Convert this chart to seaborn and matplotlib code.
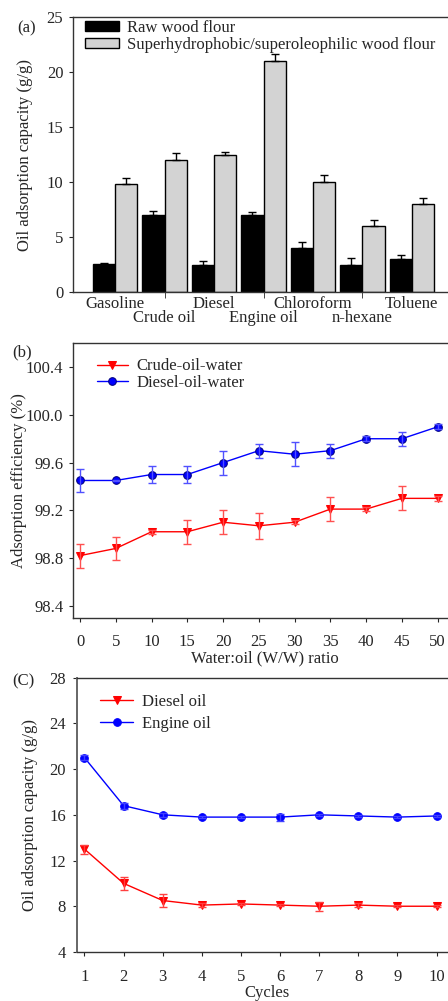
import numpy as np
import pandas as pd
import matplotlib
matplotlib.use('Agg')
import matplotlib.pyplot as plt
import seaborn as sns

# Panel (a) data
oils = ['Gasoline', 'Crude oil', 'Diesel', 'Engine oil', 'Chloroform', 'n-hexane', 'Toluene']
raw_vals = [2.6, 7.0, 2.5, 7.0, 4.0, 2.5, 3.0]
raw_err = [0.1, 0.4, 0.3, 0.3, 0.6, 0.6, 0.4]
sup_vals = [9.8, 12.0, 12.5, 21.0, 10.0, 6.0, 8.0]
sup_err = [0.55, 0.65, 0.25, 0.65, 0.65, 0.6, 0.6]

# Panel (b) data
ratio = [0, 5, 10, 15, 20, 25, 30, 35, 40, 45, 50]
crude_eff = [98.82, 98.88, 99.02, 99.02, 99.10, 99.07, 99.10, 99.21, 99.21, 99.30, 99.30]
crude_eff_err = [0.10, 0.10, 0.015, 0.10, 0.10, 0.11, 0.015, 0.10, 0.015, 0.10, 0.02]
diesel_eff = [99.45, 99.45, 99.50, 99.50, 99.60, 99.70, 99.67, 99.70, 99.80, 99.80, 99.90]
diesel_eff_err = [0.10, 0.005, 0.07, 0.07, 0.10, 0.06, 0.10, 0.06, 0.02, 0.06, 0.02]

# Panel (c) data
cycles = [1, 2, 3, 4, 5, 6, 7, 8, 9, 10]
diesel_cap = [13.0, 10.0, 8.5, 8.1, 8.2, 8.1, 8.0, 8.1, 8.0, 8.0]
diesel_cap_err = [0.4, 0.6, 0.6, 0.2, 0.1, 0.1, 0.4, 0.15, 0.1, 0.1]
engine_cap = [21.0, 16.8, 16.0, 15.8, 15.8, 15.8, 16.0, 15.9, 15.8, 15.9]
engine_cap_err = [0.2, 0.25, 0.2, 0.1, 0.1, 0.3, 0.1, 0.1, 0.1, 0.1]

sns.set_style('ticks')
plt.rcParams['font.family'] = ['Liberation Serif', 'DejaVu Serif']
plt.rcParams['font.size'] = 12
plt.rcParams['axes.edgecolor'] = '#333333'
plt.rcParams['axes.linewidth'] = 1.0

fig = plt.figure(figsize=(4.48, 10.01), dpi=100)

# ---------- (a) bar chart ----------
ax1 = fig.add_axes([0.163, 0.708, 1.02 - 0.163, 0.275])
df = pd.DataFrame({
    'oil': oils * 2,
    'val': raw_vals + sup_vals,
    'kind': ['Raw wood flour'] * 7 + ['Superhydrophobic/superoleophilic wood flour'] * 7,
})
sns.barplot(data=df, x='oil', y='val', hue='kind', order=oils,
            palette=['black', '#d3d3d3'], width=0.9, errorbar=None,
            edgecolor='black', linewidth=1.0, ax=ax1)
bars = ax1.patches[:14]
xs = [b.get_x() + b.get_width() / 2 for b in bars]
errs = raw_err + sup_err
vals = raw_vals + sup_vals
ax1.errorbar(xs, vals, yerr=[np.zeros(14), errs], fmt='none', ecolor='black',
             elinewidth=1.0, capsize=3, capthick=1.0)
ax1.set_xlim(-0.85, 6.91)
ax1.set_ylim(0, 25)
ax1.set_yticks([0, 5, 10, 15, 20, 25])
# staggered category labels: even ones on the first row, odd ones on a second row
ax1.set_xticks([0, 2, 4, 6])
ax1.set_xticklabels([oils[i] for i in [0, 2, 4, 6]])
ax1.set_xticks([1, 3, 5], minor=True)
ax1.set_xticklabels([oils[i] for i in [1, 3, 5]], minor=True)
ax1.tick_params(axis='x', which='major', length=0, pad=3)
ax1.tick_params(axis='x', which='minor', length=4, direction='out', pad=9, labelsize=12)
ax1.tick_params(axis='y', length=3, pad=4)
ax1.set_xlabel('')
ax1.set_ylabel('Oil adsorption capacity (g/g)', labelpad=10)
ax1.spines['right'].set_visible(False)
ax1.legend(loc='upper left', bbox_to_anchor=(0.028, 0.995), frameon=False,
           handlelength=2.0, handleheight=0.55, handletextpad=0.5,
           labelspacing=0.05, borderpad=0, borderaxespad=0.1)
fig.text(0.038, 0.972, '(a)', fontsize=12, va='center')

# ---------- (b) efficiency ----------
ax2 = fig.add_axes([0.163, 0.383, 1.02 - 0.163, 0.274])
sns.lineplot(x=ratio, y=crude_eff, color='red', marker='v', markersize=6,
             markeredgecolor='red', linewidth=1.0, label='Crude-oil-water', ax=ax2)
sns.lineplot(x=ratio, y=diesel_eff, color='blue', marker='o', markersize=5.5,
             markeredgecolor='#000080', linewidth=1.0, label='Diesel-oil-water', ax=ax2)
ax2.errorbar(ratio, crude_eff, yerr=crude_eff_err, fmt='none', ecolor='#ff5050',
             elinewidth=1.0, capsize=3, capthick=1.0)
ax2.errorbar(ratio, diesel_eff, yerr=diesel_eff_err, fmt='none', ecolor='#5050ff',
             elinewidth=1.0, capsize=3, capthick=1.0)
ax2.set_xlim(-0.98, 52.7)
ax2.set_ylim(98.3, 100.6)
ax2.set_xticks(ratio)
ax2.set_yticks([98.4, 98.8, 99.2, 99.6, 100.0, 100.4])
ax2.set_yticklabels(['98.4', '98.8', '99.2', '99.6', '100.0', '100.4'])
ax2.tick_params(axis='y', length=3, pad=4)
ax2.tick_params(axis='x', length=3, pad=9)
ax2.set_xlabel('Water:oil (W/W) ratio', labelpad=0)
ax2.set_ylabel('Adsorption efficiency (%)', labelpad=-1)
ax2.spines['right'].set_visible(False)
ax2.legend(loc='upper left', bbox_to_anchor=(0.062, 0.945), frameon=False,
           handlelength=1.85, handletextpad=0.55, labelspacing=0.05,
           borderpad=0, borderaxespad=0)
fig.text(0.027, 0.648, '(b)', fontsize=12, va='center')

# ---------- (c) cycles ----------
ax3 = fig.add_axes([0.172, 0.049, 1.02 - 0.172, 0.274])
sns.lineplot(x=cycles, y=diesel_cap, color='red', marker='v', markersize=6,
             markeredgecolor='red', linewidth=1.0, label='Diesel oil', ax=ax3)
sns.lineplot(x=cycles, y=engine_cap, color='blue', marker='o', markersize=5.5,
             markeredgecolor='blue', linewidth=1.0, label='Engine oil', ax=ax3)
ax3.errorbar(cycles, diesel_cap, yerr=diesel_cap_err, fmt='none', ecolor='#ff4040',
             elinewidth=1.0, capsize=3, capthick=1.0)
ax3.errorbar(cycles, engine_cap, yerr=engine_cap_err, fmt='none', ecolor='#4040ff',
             elinewidth=1.0, capsize=3, capthick=1.0)
ax3.set_xlim(0.81, 10.52)
ax3.set_ylim(4, 28)
ax3.set_xticks(cycles)
ax3.set_yticks([4, 8, 12, 16, 20, 24, 28])
ax3.tick_params(axis='y', length=3, pad=5)
ax3.tick_params(axis='x', length=3, pad=9)
ax3.set_xlabel('Cycles', labelpad=0)
ax3.set_ylabel('Oil adsorption capacity (g/g)', labelpad=8)
ax3.spines['right'].set_visible(False)
ax3.spines['left'].set_color('#666666')
ax3.spines['left'].set_linewidth(1.4)
ax3.legend(loc='upper left', bbox_to_anchor=(0.06, 0.94), frameon=False,
           handlelength=2.0, handletextpad=0.55, labelspacing=0.35,
           borderpad=0, borderaxespad=0)
fig.text(0.027, 0.319, '(C)', fontsize=12, va='center')

fig.savefig('out.png', dpi=100)
